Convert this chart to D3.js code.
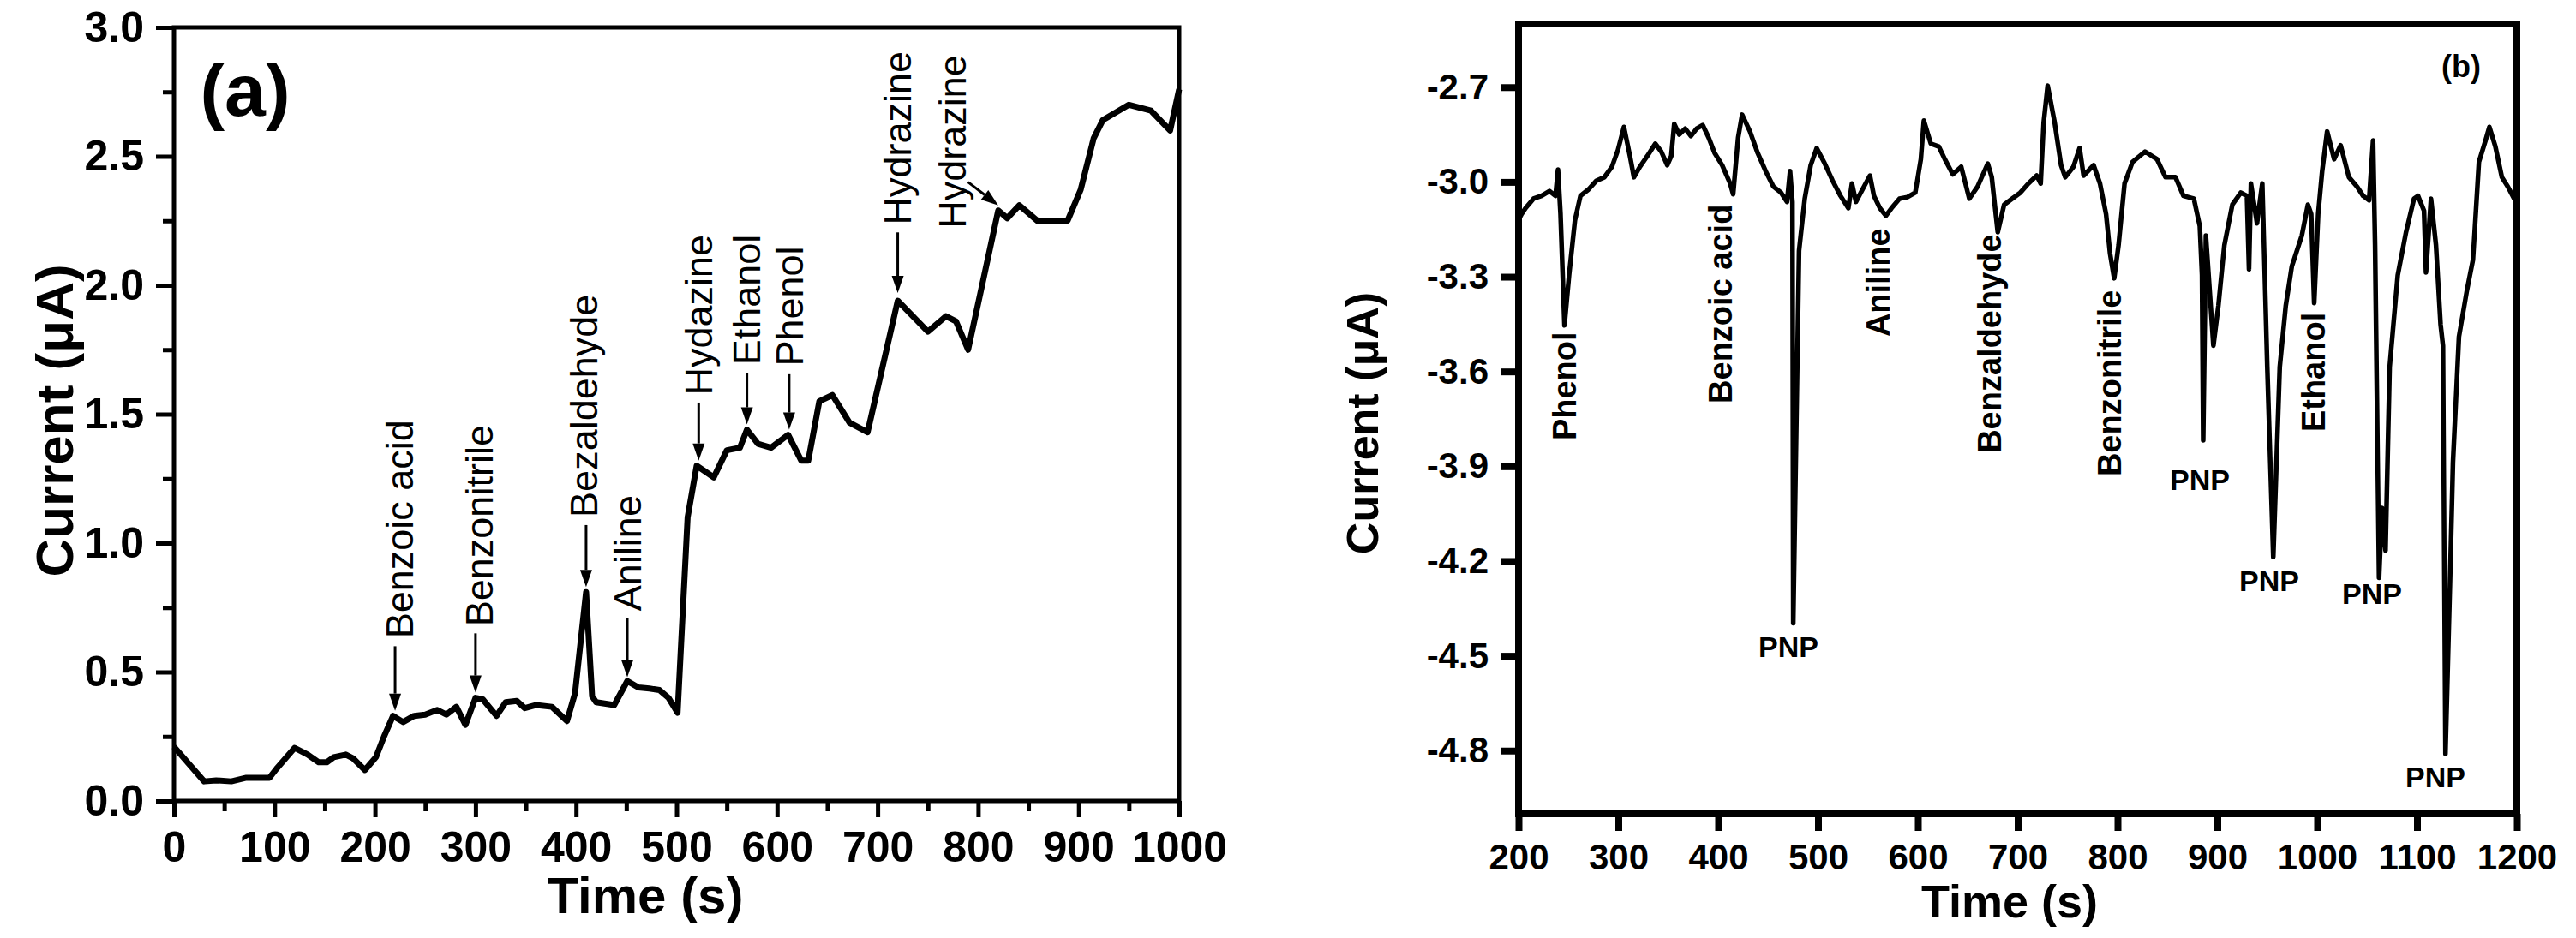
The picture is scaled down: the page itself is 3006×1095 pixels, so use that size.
<!DOCTYPE html>
<html>
<head>
<meta charset="utf-8">
<script src="https://cdn.jsdelivr.net/npm/d3@7"></script>
<style>
body { margin: 0; background: #fff; }
svg { display: block; font-family: "Liberation Sans", Arial, sans-serif; }
</style>
</head>
<body>
<div id="chart-area"></div>
<script>
// ---------- PANEL (a) DATA ----------
var timeA = [0, 30, 42, 57, 72, 95, 102, 120, 133, 144, 152, 159, 171, 178, 190, 201, 209, 218, 228, 239,
    250, 262, 271, 281, 290, 300, 307, 321, 330, 341, 349, 360, 376, 391, 399, 410, 416, 420, 438, 451,
    462, 473, 483, 492, 501, 511, 520, 537, 550, 563, 570, 581, 594, 611, 624, 631, 642, 655, 672, 690,
    720, 750, 768, 778, 790, 802, 820, 829, 841, 859, 889, 902, 915, 924, 950, 972, 991, 1000];
var currentA = [0.21, 0.076, 0.08, 0.076, 0.09, 0.09, 0.125, 0.206, 0.18, 0.15, 0.15, 0.17, 0.18, 0.166, 0.12, 0.17, 0.25, 0.33, 0.306, 0.33,
    0.335, 0.353, 0.335, 0.365, 0.295, 0.40, 0.395, 0.33, 0.383, 0.388, 0.36, 0.372, 0.365, 0.31, 0.418, 0.81, 0.406, 0.383, 0.372, 0.465,
    0.44, 0.436, 0.43, 0.40, 0.342, 1.10, 1.30, 1.255, 1.36, 1.37, 1.44, 1.385, 1.37, 1.42, 1.32, 1.32, 1.55, 1.574, 1.467, 1.43,
    1.94, 1.82, 1.88, 1.86, 1.75, 1.965, 2.29, 2.26, 2.31, 2.25, 2.25, 2.37, 2.57, 2.64, 2.70, 2.677, 2.60, 2.76];
var xTicksA = [0, 100, 200, 300, 400, 500, 600, 700, 800, 900, 1000];
var xMinorA = [50, 150, 250, 350, 450, 550, 650, 750, 850, 950];
var yTicksA = [0.0, 0.5, 1.0, 1.5, 2.0, 2.5, 3.0];
var yMinorA = [0.25, 0.75, 1.25, 1.75, 2.25, 2.75];

// annotations (a)
var labelsA = ["Benzoic acid", "Benzonitrile", "Bezaldehyde", "Aniline", "Hydazine", "Ethanol", "Phenol", "Hydrazine", "Hydrazine"];
var labelTimeA = [224, 304, 408, 451, 522, 570, 612, 720, 774];
var labelBaseA = [0.63, 0.677, 1.10, 0.737, 1.573, 1.69, 1.686, 2.234, 2.22];
var arrowStartT = [220, 300, 410, 451, 522, 570, 612, 720, 790];
var arrowStartV = [0.60, 0.65, 1.07, 0.71, 1.545, 1.66, 1.655, 2.205, 2.40];
var arrowEndT = [220, 300, 410, 451, 522, 570, 612, 720, 820];
var arrowEndV = [0.35, 0.42, 0.83, 0.48, 1.32, 1.46, 1.44, 1.97, 2.31];

// ---------- PANEL (b) DATA ----------
var timeB = [200, 203, 207, 215, 223, 231, 237, 239.5, 242, 246, 250.6, 256.5, 262, 270, 278, 286, 293.6, 299.6, 305.6, 311.6,
    315.6, 321.6, 329, 337, 343, 349, 353, 356, 361, 367, 372.7, 378.5, 384.5, 390.5, 396.4, 404, 412, 415, 420, 424,
    431.8, 439.5, 447.6, 455.4, 463, 469, 472, 474.4, 475.2, 481, 486.7, 492.7, 498.7, 506, 514.6, 522.5, 530.4, 534, 538, 546,
    552, 556, 562, 568, 573.6, 581.6, 589.5, 597.4, 600.5, 603, 606, 613, 621, 627, 635, 643.4, 651.5, 659.8, 670, 674,
    680, 686.4, 694.4, 702.6, 710.7, 719, 723, 726, 730, 737, 743.4, 747.6, 755.8, 762, 766, 776, 782.4, 788.5, 792.5, 796.6,
    801, 807, 815, 827.5, 839.5, 848, 858, 866, 876.4, 882.4, 884.6, 885.8, 888.5, 896, 901, 907, 915, 923.5, 929.6, 931.7,
    933.6, 939.7, 945, 950, 956, 962.5, 968.5, 974.6, 984.6, 990.7, 994, 997, 1001, 1005, 1010, 1017, 1023.5, 1031.8, 1040, 1046,
    1052, 1056, 1058, 1062, 1065, 1068.5, 1072.6, 1080.7, 1089, 1097, 1101, 1107, 1109, 1114, 1119, 1123.6, 1126, 1128.5, 1133, 1136,
    1142, 1150, 1156, 1162, 1168.6, 1172.5, 1178.5, 1185, 1191, 1199];
var currentB = [-3.12, -3.102, -3.083, -3.053, -3.044, -3.029, -3.044, -2.961, -3.10, -3.454, -3.295, -3.121, -3.044, -3.024, -2.996, -2.985, -2.952, -2.899, -2.826, -2.918,
    -2.985, -2.952, -2.918, -2.879, -2.904, -2.947, -2.918, -2.816, -2.85, -2.831, -2.855, -2.831, -2.82, -2.86, -2.908, -2.947, -3.005, -3.039, -2.86, -2.787,
    -2.84, -2.908, -2.966, -3.015, -3.034, -3.063, -2.966, -3.063, -4.397, -3.218, -3.053, -2.947, -2.893, -2.937, -2.996, -3.044, -3.083, -3.005, -3.063, -3.015,
    -2.98, -3.044, -3.083, -3.107, -3.083, -3.053, -3.048, -3.034, -2.976, -2.928, -2.806, -2.879, -2.888, -2.928, -2.976, -2.952, -3.053, -3.015, -2.942, -2.985,
    -3.159, -3.072, -3.053, -3.034, -3.005, -2.98, -3.005, -2.812, -2.695, -2.812, -2.947, -2.985, -2.952, -2.893, -2.98, -2.947, -3.005, -3.102, -3.227, -3.305,
    -3.20, -3.005, -2.937, -2.904, -2.928, -2.985, -2.985, -3.044, -3.053, -3.14, -3.295, -3.818, -3.17, -3.518, -3.392, -3.20, -3.072, -3.034, -3.044, -3.276,
    -3.005, -3.131, -3.005, -3.586, -4.187, -3.586, -3.392, -3.267, -3.17, -3.072, -3.102, -3.383, -3.102, -2.966, -2.84, -2.928, -2.884, -2.985, -3.015, -3.044,
    -3.058, -2.869, -3.20, -4.253, -4.032, -4.167, -3.586, -3.295, -3.159, -3.053, -3.044, -3.091, -3.286, -3.053, -3.20, -3.451, -3.518, -4.81, -4.272, -3.888,
    -3.49, -3.343, -3.247, -2.937, -2.869, -2.826, -2.888, -2.985, -3.015, -3.063];
var xTicksB = [200, 300, 400, 500, 600, 700, 800, 900, 1000, 1100, 1200];
var yTicksB = [-2.7, -3.0, -3.3, -3.6, -3.9, -4.2, -4.5, -4.8];

// annotations (b)
var labelsB = ["Phenol", "Benzoic acid", "Aniline", "Benzaldehyde", "Benzonitrile", "Ethanol"];
var labelTimeB = [246, 402.5, 560, 672, 792, 996.6];
var labelBaseB = [-3.818, -3.701, -3.49, -3.858, -3.932, -3.791];
var pnpTimeB = [470.4, 882.4, 952, 1055, 1118.5];
var pnpValueB = [-4.471, -3.943, -4.262, -4.303, -4.883];

// ---------- SVG ----------
var svg = d3.select("#chart-area")
    .append("svg")
    .attr("width", 3006)
    .attr("height", 1095);

svg.append("rect").attr("width", 3006).attr("height", 1095).attr("fill", "#fff");

// ================= PANEL (a) =================
var xA = d3.scaleLinear().domain([0, 1000]).range([203, 1376]);
var yA = d3.scaleLinear().domain([0, 3]).range([935, 32]);

var gA = svg.append("g");

// minor ticks
gA.append("g")
    .attr("transform", "translate(0,935)")
    .call(d3.axisBottom(xA).tickValues(xMinorA).tickSize(12).tickFormat(""))
    .call(g => g.select(".domain").remove())
    .selectAll("line").attr("stroke-width", 5);
gA.append("g")
    .attr("transform", "translate(203,0)")
    .call(d3.axisLeft(yA).tickValues(yMinorA).tickSize(13).tickFormat(""))
    .call(g => g.select(".domain").remove())
    .selectAll("line").attr("stroke-width", 5);

// major ticks
var xAxisA = gA.append("g")
    .attr("transform", "translate(0,935)")
    .call(d3.axisBottom(xA).tickValues(xTicksA).tickSize(19).tickPadding(16).tickFormat(d => String(d)));
var yAxisA = gA.append("g")
    .attr("transform", "translate(203,0)")
    .call(d3.axisLeft(yA).tickValues(yTicksA).tickSize(21).tickPadding(14).tickFormat(d => d.toFixed(1)));

[xAxisA, yAxisA].forEach(function (ax) {
    ax.select(".domain").remove();
    ax.attr("font-family", null).attr("font-size", null);
    ax.selectAll("line").attr("stroke-width", 5);
    ax.selectAll("text")
        .attr("font-size", "50px")
        .attr("font-weight", "bold")
        .attr("fill", "#000");
});

// frame
gA.append("rect")
    .attr("x", xA(0)).attr("y", yA(3))
    .attr("width", xA(1000) - xA(0))
    .attr("height", yA(0) - yA(3))
    .attr("fill", "none")
    .attr("stroke", "#000")
    .attr("stroke-width", 5);

// curve
var lineA = d3.line()
    .x((d, i) => xA(timeA[i]))
    .y(d => yA(d));
gA.append("path")
    .datum(currentA)
    .attr("d", lineA)
    .attr("fill", "none")
    .attr("stroke", "#000")
    .attr("stroke-width", 7)
    .attr("stroke-linejoin", "round");

// labels
labelsA.forEach(function (lab, i) {
    var x = xA(labelTimeA[i]), y = yA(labelBaseA[i]);
    gA.append("text")
        .attr("transform", "translate(" + x + "," + y + ") rotate(-90)")
        .attr("dy", "0.35em")
        .attr("font-size", "45px")
        .text(lab);

    // arrow
    var x1 = xA(arrowStartT[i]), y1 = yA(arrowStartV[i]);
    var x2 = xA(arrowEndT[i]), y2 = yA(arrowEndV[i]);
    var dx = x2 - x1, dy = y2 - y1, len = Math.sqrt(dx * dx + dy * dy);
    var ux = dx / len, uy = dy / len;
    var hl = 20, hw = 7;
    var bx = x2 - ux * hl, by = y2 - uy * hl;
    gA.append("line")
        .attr("x1", x1).attr("y1", y1)
        .attr("x2", bx).attr("y2", by)
        .attr("stroke", "#000")
        .attr("stroke-width", 3);
    gA.append("path")
        .attr("d", "M" + x2 + "," + y2 +
            "L" + (bx - uy * hw) + "," + (by + ux * hw) +
            "L" + (bx + uy * hw) + "," + (by - ux * hw) + "Z")
        .attr("fill", "#000");
});

// panel tag
gA.append("text")
    .attr("x", 286).attr("y", 135)
    .attr("text-anchor", "middle")
    .attr("font-size", "86px")
    .attr("font-weight", "bold")
    .text("(a)");

// axis titles
gA.append("text")
    .attr("x", 753).attr("y", 1066)
    .attr("text-anchor", "middle")
    .attr("font-size", "60px")
    .attr("font-weight", "bold")
    .text("Time (s)");
gA.append("text")
    .attr("transform", "translate(63,491) rotate(-90)")
    .attr("dy", "0.35em")
    .attr("text-anchor", "middle")
    .attr("font-size", "62px")
    .attr("font-weight", "bold")
    .text("Current (\u03bcA)");

// ================= PANEL (b) =================
var xB = d3.scaleLinear().domain([200, 1200]).range([1772, 2937]);
var yB = d3.scaleLinear().domain([-5.0, -2.5]).range([950, 28]);

var gB = svg.append("g");

var xAxisB = gB.append("g")
    .attr("transform", "translate(0,950)")
    .call(d3.axisBottom(xB).tickValues(xTicksB).tickSize(20).tickPadding(15).tickFormat(d => String(d)));
var yAxisB = gB.append("g")
    .attr("transform", "translate(1772,0)")
    .call(d3.axisLeft(yB).tickValues(yTicksB).tickSize(20).tickPadding(15).tickFormat(d => d.toFixed(1)));

[xAxisB, yAxisB].forEach(function (ax) {
    ax.select(".domain").remove();
    ax.attr("font-family", null).attr("font-size", null);
    ax.selectAll("line").attr("stroke-width", 8);
    ax.selectAll("text")
        .attr("font-size", "42px")
        .attr("font-weight", "bold")
        .attr("fill", "#000");
});

gB.append("rect")
    .attr("x", xB(200)).attr("y", yB(-2.5))
    .attr("width", xB(1200) - xB(200))
    .attr("height", yB(-5.0) - yB(-2.5))
    .attr("fill", "none")
    .attr("stroke", "#000")
    .attr("stroke-width", 8);

var lineB = d3.line()
    .x((d, i) => xB(timeB[i]))
    .y(d => yB(d));
gB.append("path")
    .datum(currentB)
    .attr("d", lineB)
    .attr("fill", "none")
    .attr("stroke", "#000")
    .attr("stroke-width", 5.5)
    .attr("stroke-linejoin", "round");

labelsB.forEach(function (lab, i) {
    gB.append("text")
        .attr("transform", "translate(" + xB(labelTimeB[i]) + "," + yB(labelBaseB[i]) + ") rotate(-90)")
        .attr("dy", "0.35em")
        .attr("font-size", "38px")
        .attr("font-weight", "bold")
        .text(lab);
});

pnpTimeB.forEach(function (t, i) {
    gB.append("text")
        .attr("x", xB(t)).attr("y", yB(pnpValueB[i]))
        .attr("dy", "0.36em")
        .attr("text-anchor", "middle")
        .attr("font-size", "34px")
        .attr("font-weight", "bold")
        .text("PNP");
});

gB.append("text")
    .attr("x", 2872).attr("y", 90)
    .attr("text-anchor", "middle")
    .attr("font-size", "36px")
    .attr("font-weight", "bold")
    .text("(b)");

gB.append("text")
    .attr("x", 2345).attr("y", 1071)
    .attr("text-anchor", "middle")
    .attr("font-size", "54px")
    .attr("font-weight", "bold")
    .text("Time (s)");
gB.append("text")
    .attr("transform", "translate(1590,494) rotate(-90)")
    .attr("dy", "0.35em")
    .attr("text-anchor", "middle")
    .attr("font-size", "52px")
    .attr("font-weight", "bold")
    .text("Current (\u03bcA)");
</script>
</body>
</html>
